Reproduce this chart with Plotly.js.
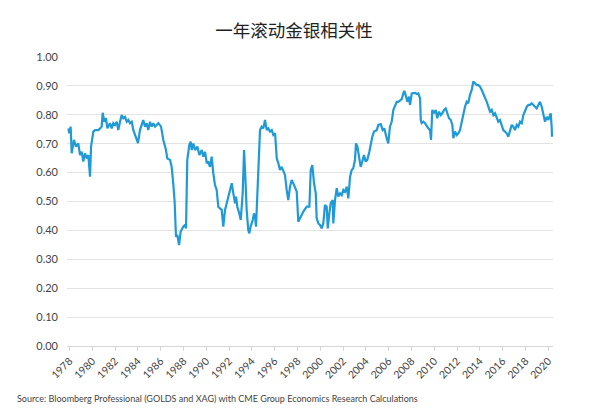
<!DOCTYPE html>
<html>
<head>
<meta charset="utf-8">
<script src="https://cdn.plot.ly/plotly-3.0.1.min.js"></script>
<style>html,body{margin:0;padding:0;background:#fff;}#chart{width:600px;height:417px;}</style>
</head>
<body>
<div id="chart"></div>
<script>
const chartTitle = "一年滚动金银相关性";
const sourceNote = "Source: Bloomberg Professional (GOLDS and XAG) with CME Group Economics Research Calculations";

const years = [
1977.90,1977.98,1978.10,1978.19,1978.39,1978.57,1978.77,1978.92,1979.07,1979.21,1979.36,1979.51,1979.65,1979.80,1979.89,
1980.00,1980.09,1980.24,1980.53,1980.68,1980.82,1980.91,1981.05,1981.20,1981.32,1981.55,1981.70,1981.84,1981.99,
1982.14,1982.28,1982.43,1982.58,1982.72,1982.87,1983.02,1983.16,1983.31,1983.46,1983.60,1983.75,1984.01,1984.18,
1984.33,1984.47,1984.62,1984.77,1984.91,1985.06,1985.21,1985.35,1985.50,1985.65,1985.79,1986.03,1986.23,1986.46,
1986.58,1986.82,1986.96,1987.10,1987.22,1987.34,1987.46,1987.61,1987.75,1987.98,1988.13,1988.22,1988.33,1988.51,
1988.63,1988.72,1988.86,1989.01,1989.21,1989.39,1989.60,1989.74,1989.89,1990.04,1990.18,1990.32,1990.47,1990.61,
1990.76,1990.91,1991.05,1991.20,1991.35,1991.49,1991.64,1991.79,1991.93,1992.08,1992.23,1992.37,1992.52,1992.61,
1992.72,1992.89,1993.02,1993.19,1993.31,1993.42,1993.54,1993.68,1993.77,1993.89,1994.07,1994.18,1994.27,1994.36,
1994.47,1994.60,1994.71,1994.86,1995.00,1995.15,1995.30,1995.44,1995.59,1995.74,1995.88,1996.03,1996.18,1996.32,
1996.46,1996.61,1996.75,1996.90,1997.05,1997.19,1997.34,1997.49,1997.63,1997.78,1997.93,1998.07,1998.22,1998.51,
1998.81,1999.04,1999.16,1999.30,1999.45,1999.60,1999.68,1999.83,1999.97,2000.12,2000.26,2000.41,2000.56,2000.65,
2000.79,2000.91,2001.09,2001.14,2001.29,2001.44,2001.58,2001.73,2001.88,2002.02,2002.17,2002.32,2002.46,2002.61,
2002.75,2002.89,2003.04,2003.13,2003.25,2003.42,2003.54,2003.68,2003.83,2003.98,2004.12,2004.30,2004.42,2004.56,
2004.71,2004.95,2005.09,2005.30,2005.47,2005.61,2005.82,2005.96,2006.11,2006.26,2006.41,2006.55,2006.70,2006.84,
2006.99,2007.14,2007.28,2007.37,2007.52,2007.63,2007.78,2007.87,2008.02,2008.16,2008.31,2008.46,2008.60,2008.75,
2008.81,2008.89,2009.04,2009.18,2009.33,2009.47,2009.62,2009.71,2009.82,2009.97,2010.12,2010.26,2010.41,2010.56,
2010.70,2010.85,2011.00,2011.14,2011.29,2011.44,2011.58,2011.67,2011.82,2011.96,2012.11,2012.25,2012.40,2012.54,
2012.69,2012.84,2012.98,2013.13,2013.28,2013.42,2013.57,2013.72,2013.86,2014.01,2014.16,2014.30,2014.45,2014.60,
2014.74,2014.89,2015.04,2015.18,2015.33,2015.47,2015.61,2015.76,2015.91,2016.05,2016.20,2016.35,2016.49,2016.64,
2016.79,2016.93,2017.08,2017.23,2017.37,2017.52,2017.67,2017.81,2017.96,2018.11,2018.25,2018.39,2018.54,2018.68,
2018.83,2018.98,2019.12,2019.27,2019.42,2019.56,2019.71,2019.86,2020.00,2020.15,2020.21,2020.30,2020.32
];

const correlation = [
0.753,0.736,0.759,0.667,0.713,0.690,0.701,0.661,0.672,0.638,0.667,0.649,0.661,0.586,0.690,
0.724,0.742,0.747,0.747,0.753,0.759,0.807,0.776,0.788,0.753,0.771,0.753,0.771,0.765,
0.776,0.747,0.776,0.799,0.788,0.793,0.776,0.782,0.771,0.776,0.747,0.730,0.702,0.747,
0.765,0.782,0.759,0.771,0.747,0.776,0.759,0.771,0.759,0.765,0.771,0.759,0.713,0.678,
0.649,0.644,0.620,0.563,0.500,0.378,0.384,0.349,0.396,0.413,0.419,0.407,0.644,0.696,
0.707,0.678,0.701,0.678,0.690,0.661,0.678,0.655,0.672,0.632,0.638,0.620,0.655,0.598,
0.557,0.540,0.482,0.476,0.471,0.413,0.471,0.494,0.517,0.540,0.563,0.528,0.494,0.517,
0.482,0.459,0.436,0.528,0.678,0.586,0.471,0.401,0.390,0.413,0.436,0.459,0.447,0.413,
0.528,0.678,0.747,0.759,0.753,0.782,0.747,0.753,0.742,0.747,0.730,0.736,0.649,0.632,
0.609,0.620,0.609,0.592,0.540,0.505,0.551,0.574,0.563,0.546,0.534,0.430,0.442,0.465,
0.482,0.482,0.609,0.626,0.563,0.528,0.442,0.424,0.419,0.407,0.424,0.488,0.482,0.407,
0.459,0.494,0.505,0.424,0.505,0.546,0.517,0.528,0.522,0.540,0.534,0.551,0.511,0.586,
0.609,0.615,0.644,0.701,0.690,0.655,0.620,0.638,0.661,0.638,0.644,0.672,0.701,0.724,
0.742,0.747,0.765,0.768,0.747,0.753,0.719,0.701,0.759,0.776,0.817,0.834,0.845,0.845,
0.851,0.854,0.874,0.883,0.863,0.845,0.863,0.834,0.874,0.874,0.876,0.872,0.874,0.857,
0.782,0.771,0.776,0.771,0.759,0.753,0.747,0.713,0.817,0.805,0.817,0.788,0.811,0.799,
0.805,0.817,0.822,0.805,0.788,0.782,0.765,0.719,0.742,0.730,0.736,0.747,0.776,0.805,
0.828,0.845,0.840,0.869,0.886,0.915,0.909,0.903,0.903,0.897,0.886,0.874,0.863,0.845,
0.828,0.811,0.817,0.799,0.805,0.788,0.776,0.782,0.765,0.747,0.742,0.736,0.724,0.747,
0.765,0.759,0.747,0.765,0.759,0.776,0.771,0.799,0.817,0.828,0.834,0.834,0.840,0.834,
0.828,0.822,0.834,0.845,0.828,0.805,0.776,0.793,0.782,0.799,0.805,0.753,0.724
];

const xTickValues = [1978,1980,1982,1984,1986,1988,1990,1992,1994,1996,1998,2000,2002,2004,2006,2008,2010,2012,2014,2016,2018,2020];
const xTickLabels = ["1978","1980","1982","1984","1986","1988","1990","1992","1994","1996","1998","2000","2002","2004","2006","2008","2010","2012","2014","2016","2018","2020"];
const yTickValues = [0,0.1,0.2,0.3,0.4,0.5,0.6,0.7,0.8,0.9,1.0];

const trace = {
  x: years, y: correlation, type: 'scatter', mode: 'lines',
  line: {color: '#1f9ad6', width: 2.2}, hoverinfo: 'skip'
};

const layout = {
  width: 600, height: 417,
  margin: {l: 67, r: 47, t: 57, b: 71},
  paper_bgcolor: '#ffffff', plot_bgcolor: '#ffffff',
  showlegend: false,
  font: {family: 'Lato, "Noto Sans", sans-serif', color: '#444', size: 11},
  title: {
    text: chartTitle,
    font: {family: '"Noto Sans CJK SC", sans-serif', size: 17.5, color: '#222'},
    x: 294/600, xanchor: 'center', xref: 'container',
    y: 1 - 31/417, yanchor: 'middle', yref: 'container'
  },
  xaxis: {
    range: [1977.78, 2020.41],
    tickmode: 'array', tickvals: xTickValues, ticktext: xTickLabels,
    tickangle: -45, tickfont: {size: 10.5, color: '#444'},
    ticks: 'outside', ticklen: 4, tickcolor: '#d6d6d6', tickwidth: 1,
    showgrid: false, zeroline: false,
    showline: true, linecolor: '#d6d6d6', linewidth: 1,
    fixedrange: true
  },
  yaxis: {
    range: [0, 1],
    tickmode: 'array', tickvals: yTickValues, tickformat: '.2f',
    tickfont: {size: 11, color: '#444'},
    ticklabelstandoff: 8,
    showgrid: true, gridcolor: '#e3e3e3', gridwidth: 1,
    zeroline: false, showline: false, fixedrange: true
  },
  annotations: [{
    text: sourceNote, showarrow: false,
    xref: 'paper', yref: 'paper',
    x: (15 - 67) / 486, xanchor: 'left',
    y: (346 - 398) / 289, yanchor: 'middle',
    font: {size: 9, color: '#444', family: 'Lato, "Noto Sans", sans-serif'}
  }]
};

Plotly.newPlot('chart', [trace], layout, {displayModeBar: false, staticPlot: true});
</script>
</body>
</html>
